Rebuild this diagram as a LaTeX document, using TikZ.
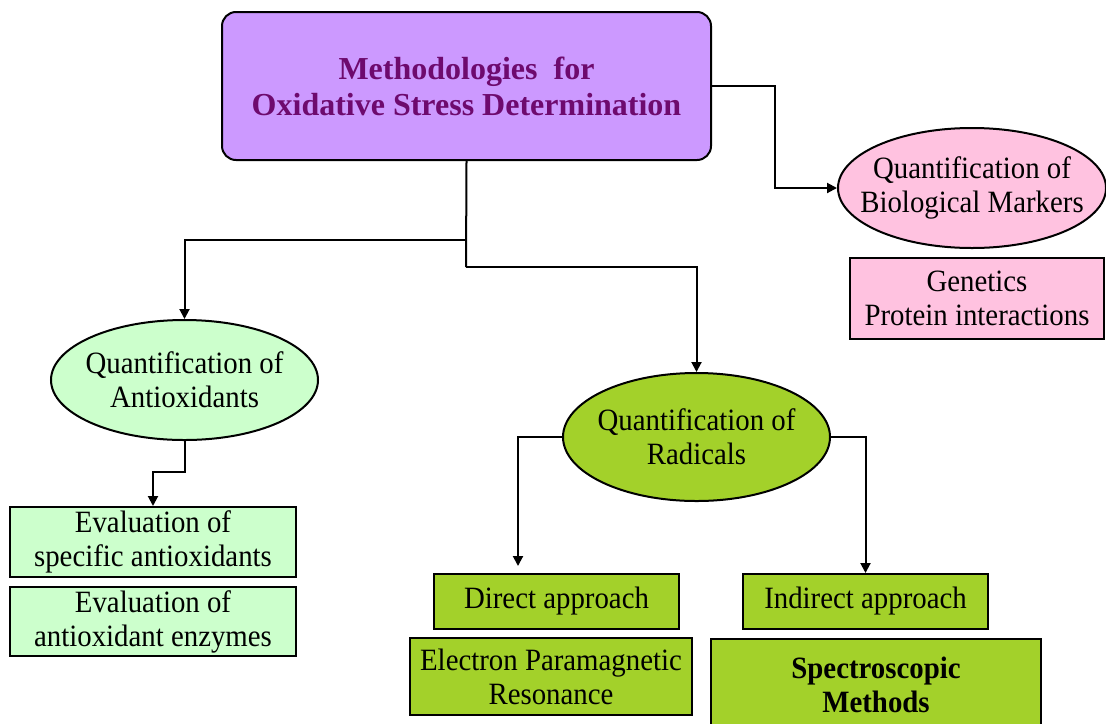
\documentclass[tikz,border=0pt]{standalone}
\usepackage{fontspec}
\setmainfont{Liberation Serif}[FakeStretch=0.93]
\newfontfamily\titlefont{Liberation Serif}
\usetikzlibrary{shapes.geometric,arrows.meta}
\definecolor{purpfill}{HTML}{CC99FF}
\definecolor{purptext}{HTML}{6E0A6E}
\definecolor{pinkfill}{HTML}{FFC2E0}
\definecolor{lgreen}{HTML}{CCFFCC}
\definecolor{ygreen}{HTML}{A3D12A}
\tikzset{
  boxnode/.style={draw, line width=1pt, inner sep=0pt, align=center, font=\fontsize{15.5}{17}\selectfont},
  ellnode/.style={draw, ellipse, line width=1pt, inner sep=0pt},
  txt/.style={align=center, inner sep=0pt, font=\fontsize{15.5}{17}\selectfont},
  arr/.style={line width=1pt, -{Triangle[length=5pt,width=5pt]}},
  conn/.style={line width=1pt}
}
\begin{document}
\begin{tikzpicture}[x=0.5pt,y=-0.5pt]
\useasboundingbox (0,0) rectangle (1106,723);
\begin{scope}
\clip (0,0) rectangle (1106,723);
% top box
\node[boxnode, fill=purpfill, rounded corners=7pt, minimum width=244.5pt, minimum height=74pt,
      text=purptext, font=\titlefont\fontsize{16}{18}\selectfont\bfseries] (top) at (466.5,86)
      {Methodologies\ \ for\\Oxidative Stress Determination};
% biological markers
\node[ellnode, fill=pinkfill, minimum width=134pt, minimum height=60pt] (bio) at (972,188) {};
\node[txt] (biot) at (bio) {Quantification of\\Biological Markers};
\node[boxnode, fill=pinkfill, minimum width=127pt, minimum height=40.5pt] (gen) at (977,298.5)
      {Genetics\\Protein interactions};
% antioxidants
\node[ellnode, fill=lgreen, minimum width=133.5pt, minimum height=60pt] (anti) at (184.5,380) {};
\node[txt] (antit) at (anti) {Quantification of\\Antioxidants};
\node[boxnode, fill=lgreen, minimum width=143pt, minimum height=35pt] (ev1) at (153,542)
      {Evaluation of\\specific antioxidants};
\node[boxnode, fill=lgreen, minimum width=143pt, minimum height=34.5pt] (ev2) at (153,621.5)
      {Evaluation of\\antioxidant enzymes};
% radicals
\node[ellnode, fill=ygreen, minimum width=133.5pt, minimum height=64pt] (rad) at (696.5,437) {};
\node[txt] (radt) at (rad) {Quantification of\\Radicals};
\node[boxnode, fill=ygreen, minimum width=122.5pt, minimum height=27.5pt] (direct) at (556.5,601.5)
      {\raisebox{-1.5pt}{Direct approach}};
\node[boxnode, fill=ygreen, minimum width=141pt, minimum height=38.5pt] (epr) at (551,676.5)
      {Electron Paramagnetic\\Resonance};
\node[boxnode, fill=ygreen, minimum width=122.5pt, minimum height=27.5pt] (indirect) at (865.5,601.5)
      {\raisebox{-1.5pt}{Indirect approach}};
\node[boxnode, fill=ygreen, minimum width=165pt, minimum height=46pt,
      font=\fontsize{15.5}{17}\selectfont\bfseries] (spec) at (876,685)
      {Spectroscopic\\Methods};
% connectors
\coordinate (jR) at (775,86);
\coordinate (jA) at (466,240);
\coordinate (jB) at (466,267);
\coordinate (jC) at (184.5,472);
\coordinate (dA) at (518,566);
\draw[arr] (top.east) -- (jR) |- (bio.west);
\draw[conn] (top.south) -- (jB);
\draw[arr] (jB) -| (rad.north);
\draw[arr] (jA) -| (anti.north);
\draw[arr] (anti.south) -- (jC) -| (ev1.north);
\draw[arr] (rad.west) -| (dA);
\draw[arr] (rad.east) -| (indirect.north);
\end{scope}
\end{tikzpicture}
\end{document}
